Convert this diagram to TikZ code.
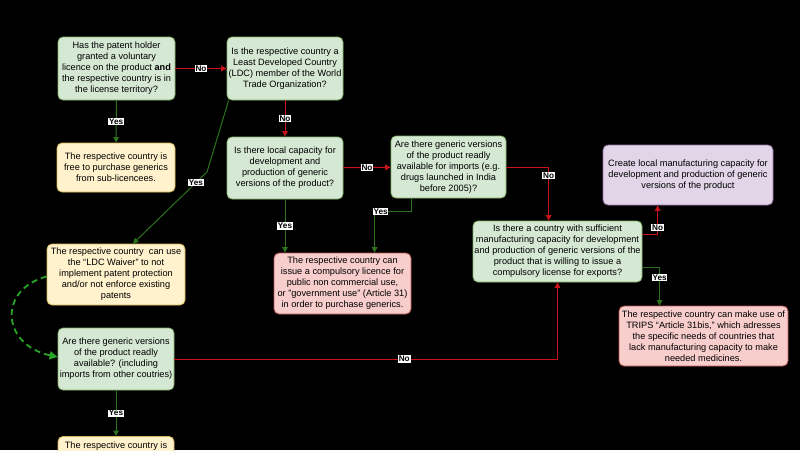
\documentclass[tikz,border=0pt]{standalone}
\usepackage{fontspec}
\setmainfont{Liberation Sans}
\usetikzlibrary{arrows.meta,calc}
\definecolor{gfill}{RGB}{213,232,212}
\definecolor{gline}{RGB}{130,179,102}
\definecolor{yfill}{RGB}{255,242,204}
\definecolor{yline}{RGB}{214,182,86}
\definecolor{pfill}{RGB}{248,206,204}
\definecolor{pline}{RGB}{184,84,80}
\definecolor{vfill}{RGB}{225,213,231}
\definecolor{vline}{RGB}{150,115,166}
\definecolor{redl}{RGB}{200,20,25}
\definecolor{grnl}{RGB}{45,115,30}
\definecolor{grnd}{RGB}{40,165,40}
\tikzset{
  box/.style={rounded corners=5pt, draw, line width=0.8pt, align=center, inner sep=0pt,
    font=\fontsize{9.2}{11}\selectfont, text=black},
  gbox/.style={box, fill=gfill, draw=gline},
  ybox/.style={box, fill=yfill, draw=yline},
  pbox/.style={box, fill=pfill, draw=pline},
  vbox/.style={box, fill=vfill, draw=vline},
  redarr/.style={draw=redl, line width=1pt, -{Triangle[length=5.5pt,width=5.5pt]}},
  grnarr/.style={draw=grnl, line width=1pt, -{Triangle[length=5.5pt,width=5.5pt]}},
  dasharr/.style={draw=grnd, line width=1.8pt, dash pattern=on 6pt off 4pt, -{Triangle[length=8pt,width=8pt]}},
  lbl/.style={fill=white, text=black, font=\bfseries\fontsize{8.2}{9}\selectfont, inner sep=0.8pt},
}
\begin{document}
\begin{tikzpicture}[x=1pt,y=-1pt]
\fill[black] (0,0) rectangle (800,450);
\useasboundingbox (0,0) rectangle (800,450);
\clip (0,0) rectangle (800,450);

\node[gbox, minimum width=117pt, minimum height=63pt] (q1) at (116.5,68.5)
  {Has the patent holder\\granted a voluntary\\licence on the product \textbf{and}\\the respective country is in\\the license territory?};
\node[gbox, minimum width=116pt, minimum height=63pt] (ldc) at (285,68.5)
  {Is the respective country a\\Least Developed Country\\(LDC) member of the World\\Trade Organization?};
\node[ybox, minimum width=118pt, minimum height=49pt] (free) at (116,167.5)
  {The respective country is\\free to purchase generics\\from sub-licencees.};
\node[gbox, minimum width=116pt, minimum height=62pt] (local) at (285,168)
  {Is there local capacity for\\development and\\production of generic\\versions of the product?};
\node[gbox, minimum width=115pt, minimum height=62pt] (imports) at (448.5,167)
  {Are there generic versions\\of the product readly\\available for imports (e.g.\\drugs launched in India\\before 2005)?};
\node[vbox, minimum width=170pt, minimum height=60pt] (create) at (688,175)
  {Create local manufacturing capacity for\\development and production of generic\\versions of the product};
\node[gbox, minimum width=169pt, minimum height=61pt] (country) at (557.5,251.5)
  {Is there a country with sufficient\\manufacturing capacity for development\\and production of generic versions of the\\product that is willing to issue a\\compulsory license for exports?};
\node[ybox, minimum width=138pt, minimum height=61pt] (waiver) at (116,274.5)
  {The respective country \ can use\\the “LDC Waiver” to not\\implement patent protection\\and/or not enforce existing\\patents};
\node[pbox, minimum width=137pt, minimum height=61pt] (cl) at (342.5,283.5)
  {The respective country can\\issue a compulsory licence for\\public non commercial use,\\or "government use" (Article 31)\\in order to purchase generics.};
\node[pbox, minimum width=169pt, minimum height=60pt] (bis) at (703.5,336)
  {The respective country can make use of\\TRIPS “Article 31bis,” which adresses\\the specific needs of countries that\\lack manufacturing capacity to make\\needed medicines.};
\node[gbox, minimum width=116pt, minimum height=62pt] (avail) at (116,359)
  {Are there generic versions\\of the product readly\\available? (including\\imports from other coutries)};
\node[ybox, minimum width=116pt, minimum height=60pt, anchor=north] (bot) at (116,436) {};
\node[font=\fontsize{9.2}{11}\selectfont, text=black, inner sep=0pt, anchor=north] (bottxt) at (116,441.5) {The respective country is};

% connectors
\draw[redarr] (q1) -- node[lbl]{No} (ldc);
\draw[grnarr] (q1) -- node[lbl]{Yes} (free);
\draw[redarr] (ldc) -- node[lbl]{No} (local);
\coordinate (ys) at ($(ldc.south west)+(2,0)$);
\coordinate (yb) at (207,172);
\coordinate (ye) at ($(waiver.north)+(17,0)$);
\draw[grnarr] (ys) -- (yb) -- node[lbl, pos=0.15]{Yes} (ye);
\draw[redarr] (local) -- node[lbl]{No} (imports);
\draw[grnarr] (local.south) -- node[lbl]{Yes} (local.south |- cl.north);
\coordinate (ia) at ($(imports.south west)+(21,0)$);
\coordinate (ic) at ($(cl.north west)+(101,0)$);
\coordinate (ib) at ($(ic)+(0,-41)$);
\draw[grnarr] (ia) |- (ib) -- (ic);
\node[lbl] (yesb) at ($(ib)+(6,0)$) {Yes};
\coordinate (cn) at ($(country.north west)+(76,0)$);
\draw[redarr] (imports.east) -| node[lbl, pos=0.58]{No} (cn);
\coordinate (cr) at ($(country.north east)+(0,14)$);
\coordinate (cs) at ($(create.south west)+(55,0)$);
\draw[redarr] (cr) -| node[lbl, pos=0.62]{No} (cs);
\coordinate (cy) at ($(country.south east)+(0,-15)$);
\coordinate (bt) at ($(bis.north west)+(41,0)$);
\draw[grnarr] (cy) -| node[lbl, pos=0.63]{Yes} (bt);
\draw[redarr] (avail.east) -| node[lbl, pos=0.3]{No} (country.south);
\draw[grnarr] (avail.south) -- node[lbl]{Yes} (bot.north);
\draw[dasharr] ($(waiver.west)+(0,2)$) .. controls (-3,290) and (2,345) .. ($(avail.west)+(0,-2)$);
\end{tikzpicture}
\end{document}
